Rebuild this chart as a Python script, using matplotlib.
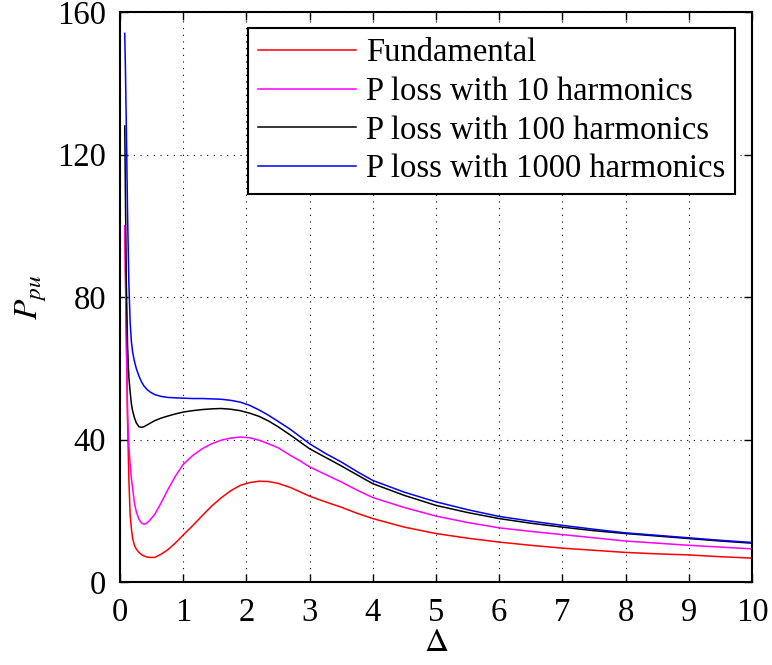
import numpy as np
import matplotlib
matplotlib.use('Agg')
import matplotlib.pyplot as plt

plt.rcParams['font.family'] = ['Liberation Serif', 'DejaVu Serif']
plt.rcParams['mathtext.fontset'] = 'stix'

# values
delta = [0.075, 0.085, 0.1, 0.12, 0.14, 0.16, 0.18, 0.2, 0.23, 0.26, 0.3, 0.34, 0.38, 0.43,
         0.48, 0.55, 0.65, 0.76, 0.88, 1.0, 1.15, 1.3, 1.45, 1.6, 1.75, 1.9, 2.05, 2.2,
         2.35, 2.5, 2.7, 2.85, 3.0, 3.25, 3.5, 3.75, 4.0, 4.5, 5.0, 5.5, 6.0, 6.5, 7.0,
         7.5, 8.0, 8.5, 9.0, 9.5, 10.0]

p_fund = [100, 90, 68, 45, 29, 19, 15, 12.2, 10.2, 9.2, 8.3, 7.7, 7.3, 7.0,
          6.9, 6.9, 7.8, 9.1, 11.0, 13.2, 15.8, 18.6, 21.3, 23.6, 25.6, 27.1, 27.9, 28.3,
          28.2, 27.7, 26.5, 25.3, 24.1, 22.5, 21.0, 19.3, 17.8, 15.4, 13.6, 12.3, 11.2, 10.3, 9.5,
          8.9, 8.3, 7.9, 7.6, 7.1, 6.7]

p_h10 = [100, 88, 70, 47, 38.5, 33, 29.2, 26.3, 22, 19.6, 17.6, 16.6, 16.2, 16.6,
         17.5, 19.0, 22.2, 26.0, 29.8, 33.0, 35.5, 37.4, 38.8, 39.8, 40.4, 40.7, 40.5, 39.8,
         38.8, 37.7, 35.5, 34.0, 32.3, 30.2, 28.1, 25.8, 23.7, 20.9, 18.5, 16.7, 15.2, 14.2, 13.3,
         12.4, 11.5, 10.9, 10.3, 9.8, 9.3]

p_h100 = [128, 110, 84, 66, 57.5, 53.5, 50, 48, 46, 44.6, 43.6, 43.4, 43.6, 44.1,
          44.6, 45.3, 46.0, 46.6, 47.2, 47.7, 48.1, 48.4, 48.6, 48.7, 48.5, 48.1, 47.4, 46.5,
          45.2, 43.6, 41.2, 39.3, 37.4, 35.0, 32.6, 30.1, 27.6, 24.3, 21.5, 19.5, 17.8, 16.5, 15.4,
          14.4, 13.6, 12.9, 12.2, 11.5, 10.9]

p_h1000 = [154, 145, 128, 103, 84, 73, 67.5, 64.5, 61.8, 59.8, 57.8, 56.2, 55.0, 54.0,
           53.3, 52.6, 52.1, 51.8, 51.7, 51.6, 51.5, 51.5, 51.4, 51.3, 51.0, 50.5, 49.6, 48.3,
           46.8, 45.1, 42.8, 40.8, 38.8, 36.1, 33.7, 31.0, 28.5, 25.2, 22.5, 20.3, 18.4, 17.1, 15.9,
           14.8, 13.8, 13.1, 12.4, 11.7, 11.1]

labels = ['Fundamental', 'P loss with 10 harmonics',
          'P loss with 100 harmonics', 'P loss with 1000 harmonics']
colors = ['#ff0000', '#ff00ff', '#000000', '#0000ff']

fig = plt.figure(figsize=(7.72, 6.65), dpi=100)
ax = fig.add_axes([120 / 772, 83 / 665, 632 / 772, 570 / 665])

for ys, lab, c in zip([p_fund, p_h10, p_h100, p_h1000], labels, colors):
    ax.plot(delta, ys, color=c, lw=1.1, label=lab)

ax.set_xlim(0, 10)
ax.set_ylim(0, 160)
ax.set_xticks(range(0, 11))
ax.set_yticks([0, 40, 80, 120, 160])
ax.grid(True, color='black', linestyle=(0, (1, 5)), linewidth=0.8)
ax.tick_params(direction='in', length=6, width=1, labelsize=23.5, top=True, right=True)
ax.tick_params(axis='x', pad=11)
ax.tick_params(axis='y', pad=10)
for s in ax.spines.values():
    s.set_linewidth(1.5)

ax.set_xlabel(r'$\Delta$', fontsize=24, labelpad=0)
ax.set_ylabel(r'$P_{pu}$', fontsize=24, labelpad=6)

leg = ax.legend(loc='upper right', bbox_to_anchor=(1 - 17 / 632, 1 - 16 / 570),
                borderaxespad=0, fontsize=23.5, handlelength=3.0, handletextpad=0.3,
                labelspacing=0.25, borderpad=0.3, fancybox=False, framealpha=1)
leg.get_frame().set_edgecolor('black')
leg.get_frame().set_linewidth(1.5)

fig.savefig('out.png', dpi=100)
